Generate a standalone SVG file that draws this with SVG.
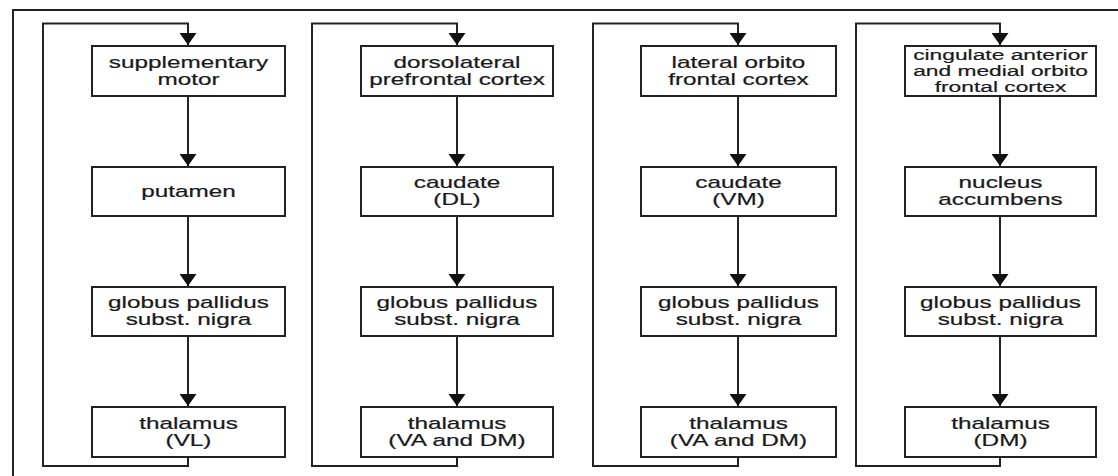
<svg xmlns="http://www.w3.org/2000/svg" width="1118" height="476" viewBox="0 0 1118 476">
<style>
.frame{fill:none;stroke:#222;stroke-width:2}
.box{fill:#fff;stroke:#222;stroke-width:2}
.edge{fill:none;stroke:#222;stroke-width:2}
.t{font-family:"Liberation Sans",Arial,sans-serif;font-size:16px;fill:#1a1a1a;text-anchor:middle;stroke:#1a1a1a;stroke-width:0.2}
.s{font-size:15px}
</style>
<defs>
<marker id="ah" markerUnits="userSpaceOnUse" markerWidth="12" markerHeight="17" refX="12" refY="8.5" orient="auto" viewBox="0 0 12 17">
<path d="M0,0 L12,8.5 L0,17 Z" fill="#111"/>
</marker>
</defs>
<rect width="1118" height="476" fill="#fff"/>
<path class="frame" d="M13,476 L13,10 L1118,10"/>
<g id="connectors">
<path class="edge" marker-end="url(#ah)" d="M188,457 L188,466 L43,466 L43,23.5 L188,23.5 L188,45"/>
<path class="edge" marker-end="url(#ah)" d="M188,96 L188,166"/>
<path class="edge" marker-end="url(#ah)" d="M188,216 L188,286"/>
<path class="edge" marker-end="url(#ah)" d="M188,336 L188,406"/>
<path class="edge" marker-end="url(#ah)" d="M457,457 L457,466 L312,466 L312,23.5 L457,23.5 L457,45"/>
<path class="edge" marker-end="url(#ah)" d="M457,96 L457,166"/>
<path class="edge" marker-end="url(#ah)" d="M457,216 L457,286"/>
<path class="edge" marker-end="url(#ah)" d="M457,336 L457,406"/>
<path class="edge" marker-end="url(#ah)" d="M738,457 L738,466 L593,466 L593,23.5 L738,23.5 L738,45"/>
<path class="edge" marker-end="url(#ah)" d="M738,96 L738,166"/>
<path class="edge" marker-end="url(#ah)" d="M738,216 L738,286"/>
<path class="edge" marker-end="url(#ah)" d="M738,336 L738,406"/>
<path class="edge" marker-end="url(#ah)" d="M1000,457 L1000,466 L856,466 L856,23.5 L1000,23.5 L1000,45"/>
<path class="edge" marker-end="url(#ah)" d="M1000,96 L1000,166"/>
<path class="edge" marker-end="url(#ah)" d="M1000,216 L1000,286"/>
<path class="edge" marker-end="url(#ah)" d="M1000,336 L1000,406"/>
</g>
<g id="n1a"><rect class="box" x="92" y="46" width="193" height="50"/>
<text class="t" transform="translate(188.5,0) scale(1.52,1)"><tspan x="0" y="68">supplementary</tspan><tspan x="0" y="85">motor</tspan></text></g>
<g id="n1b"><rect class="box" x="92" y="167" width="193" height="49"/>
<text class="t" transform="translate(188.5,0) scale(1.52,1)"><tspan x="0" y="197">putamen</tspan></text></g>
<g id="n1c"><rect class="box" x="92" y="287" width="193" height="49"/>
<text class="t" transform="translate(188.5,0) scale(1.52,1)"><tspan x="0" y="308">globus pallidus</tspan><tspan x="0" y="325">subst. nigra</tspan></text></g>
<g id="n1d"><rect class="box" x="92" y="407" width="193" height="50"/>
<text class="t" transform="translate(188.5,0) scale(1.52,1)"><tspan x="0" y="429">thalamus</tspan><tspan x="0" y="446">(VL)</tspan></text></g>

<g id="n2a"><rect class="box" x="361" y="46" width="192" height="50"/>
<text class="t" transform="translate(457,0) scale(1.52,1)"><tspan x="0" y="68">dorsolateral</tspan><tspan x="0" y="85">prefrontal cortex</tspan></text></g>
<g id="n2b"><rect class="box" x="361" y="167" width="192" height="49"/>
<text class="t" transform="translate(457,0) scale(1.52,1)"><tspan x="0" y="188">caudate</tspan><tspan x="0" y="205">(DL)</tspan></text></g>
<g id="n2c"><rect class="box" x="361" y="287" width="192" height="49"/>
<text class="t" transform="translate(457,0) scale(1.52,1)"><tspan x="0" y="308">globus pallidus</tspan><tspan x="0" y="325">subst. nigra</tspan></text></g>
<g id="n2d"><rect class="box" x="361" y="407" width="192" height="50"/>
<text class="t" transform="translate(457,0) scale(1.52,1)"><tspan x="0" y="429">thalamus</tspan><tspan x="0" y="446">(VA and DM)</tspan></text></g>

<g id="n3a"><rect class="box" x="641" y="46" width="195" height="50"/>
<text class="t" transform="translate(738.5,0) scale(1.52,1)"><tspan x="0" y="68">lateral orbito</tspan><tspan x="0" y="85">frontal cortex</tspan></text></g>
<g id="n3b"><rect class="box" x="641" y="167" width="195" height="49"/>
<text class="t" transform="translate(738.5,0) scale(1.52,1)"><tspan x="0" y="188">caudate</tspan><tspan x="0" y="205">(VM)</tspan></text></g>
<g id="n3c"><rect class="box" x="641" y="287" width="195" height="49"/>
<text class="t" transform="translate(738.5,0) scale(1.52,1)"><tspan x="0" y="308">globus pallidus</tspan><tspan x="0" y="325">subst. nigra</tspan></text></g>
<g id="n3d"><rect class="box" x="641" y="407" width="195" height="50"/>
<text class="t" transform="translate(738.5,0) scale(1.52,1)"><tspan x="0" y="429">thalamus</tspan><tspan x="0" y="446">(VA and DM)</tspan></text></g>

<g id="n4a"><rect class="box" x="905" y="46" width="191" height="50"/>
<text class="t s" transform="translate(1000.5,0) scale(1.52,1)"><tspan x="0" y="60">cingulate anterior</tspan><tspan x="0" y="76">and medial orbito</tspan><tspan x="0" y="92">frontal cortex</tspan></text></g>
<g id="n4b"><rect class="box" x="905" y="167" width="191" height="49"/>
<text class="t" transform="translate(1000.5,0) scale(1.52,1)"><tspan x="0" y="188">nucleus</tspan><tspan x="0" y="205">accumbens</tspan></text></g>
<g id="n4c"><rect class="box" x="905" y="287" width="191" height="49"/>
<text class="t" transform="translate(1000.5,0) scale(1.52,1)"><tspan x="0" y="308">globus pallidus</tspan><tspan x="0" y="325">subst. nigra</tspan></text></g>
<g id="n4d"><rect class="box" x="905" y="407" width="191" height="50"/>
<text class="t" transform="translate(1000.5,0) scale(1.52,1)"><tspan x="0" y="429">thalamus</tspan><tspan x="0" y="446">(DM)</tspan></text></g>
</svg>
